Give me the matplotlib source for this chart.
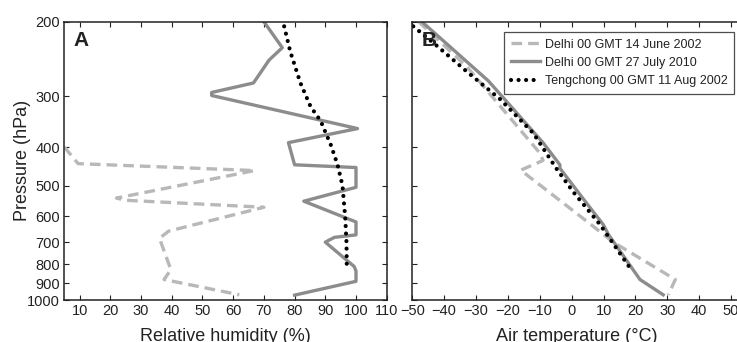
import numpy as np
import matplotlib
matplotlib.use("Agg")
import matplotlib.pyplot as plt

plt.rcParams['font.family'] = ['Liberation Sans', 'DejaVu Sans']
plt.rcParams['text.color'] = '#222222'
plt.rcParams['axes.labelcolor'] = '#222222'
plt.rcParams['xtick.color'] = '#222222'
plt.rcParams['ytick.color'] = '#222222'

# Panel A: relative humidity (%) against pressure (hPa)
rh_2002 = [5, 9.5, 67, 22, 25, 70, 39, 36, 39.7, 37.5, 62]
p_rh_2002 = [400, 440, 458, 538, 545, 568, 655, 684, 828, 880, 968]

rh_2010 = [70, 76, 71.7, 66.6, 53, 53, 100.5, 78, 80, 100, 100, 83, 100, 100, 93, 90, 99.4, 100, 100, 80]
p_rh_2010 = [200, 230, 246, 279, 294, 299, 360, 390, 443, 450, 505, 548, 620, 670, 680, 700, 812, 835, 890, 970]

rh_teng = [76.6, 78.6, 81.9, 85.2, 88.5, 91.8, 94, 95.6, 96.5, 96.9, 97]
p_rh_teng = [205, 235, 279, 318, 345, 395, 443, 500, 605, 700, 812]

# Panel B: air temperature (degC) against pressure (hPa)
t_2002 = [-48, -32.9, -10, -9, -16, 5, 13, 32.5, 30.3]
p_t_2002 = [200, 255, 414, 432, 457, 620, 700, 880, 968]

t_2010 = [-47, -26.1, -8.9, -3.7, -3.7, 4.7, 9.9, 11.5, 21.4, 28.7]
p_t_2010 = [200, 276, 391, 443, 452, 555, 630, 668, 880, 968]

t_teng = [-49.7, -43.4, -32.9, -22.5, -12, -4.7, 0.5, 8.9, 18.3]
p_t_teng = [205, 224, 262, 305, 370, 454, 519, 630, 820]

labels = ['Delhi 00 GMT 14 June 2002', 'Delhi 00 GMT 27 July 2010',
          'Tengchong 00 GMT 11 Aug 2002']
p_ticks = [200, 300, 400, 500, 600, 700, 800, 900, 1000]
rh_ticks = [10, 20, 30, 40, 50, 60, 70, 80, 90, 100, 110]
t_ticks = [-50, -40, -30, -20, -10, 0, 10, 20, 30, 40, 50]

c_dash = '#b8b8b8'
c_solid = '#8c8c8c'
dash_style = dict(color=c_dash, lw=2.4, ls=(0, (3.2, 1.8)))
solid_style = dict(color=c_solid, lw=2.4, ls='-')
dot_style = dict(color='black', lw=3.0, ls=(0, (0.01, 1.8)), dash_capstyle='round')


def fwd(p):
    return -np.power(np.clip(p, 1, None), -0.1)


def inv(v):
    return np.power(-np.clip(v, None, -1e-9), -10.0)


fig = plt.figure(figsize=(7.37, 3.42), dpi=100)
axA = fig.add_axes([64.3 / 737, 1 - 300 / 342, 322.4 / 737, 278.3 / 342])
axB = fig.add_axes([412.3 / 737, 1 - 300 / 342, 350.7 / 737, 278.3 / 342])

axA.plot(rh_2002, p_rh_2002, **dash_style)
axA.plot(rh_2010, p_rh_2010, **solid_style)
axA.plot(rh_teng, p_rh_teng, **dot_style)

axB.plot(t_2002, p_t_2002, label=labels[0], **dash_style)
axB.plot(t_2010, p_t_2010, label=labels[1], **solid_style)
axB.plot(t_teng, p_t_teng, label=labels[2], **dot_style)

for ax in (axA, axB):
    ax.set_yscale('function', functions=(fwd, inv))
    ax.set_ylim(1000, 200)
    ax.set_yticks(p_ticks)
    ax.minorticks_off()
    ax.tick_params(direction='in', top=True, right=True, labelsize=10.5,
                   length=3.5, width=0.8, pad=3)
    for s in ax.spines.values():
        s.set_linewidth(1.1)
        s.set_color('#222222')

axA.set_yticklabels([str(p) for p in p_ticks])
axA.set_xlim(5, 110)
axA.set_xticks(rh_ticks)
axA.set_xlabel('Relative humidity (%)', fontsize=13, labelpad=7)
axA.set_ylabel('Pressure (hPa)', fontsize=13)
axA.yaxis.set_label_coords(-0.102, 0.5)
axA.text(0.03, 0.965, 'A', transform=axA.transAxes, fontsize=15,
         fontweight='bold', va='top', ha='left')

axB.set_yticklabels([])
axB.set_xlim(-50, 60)
axB.set_xticks(t_ticks)
axB.set_xticklabels([str(t).replace('-', '\u2212') for t in t_ticks])
axB.set_xlabel('Air temperature (\u00b0C)', fontsize=13, labelpad=7)
axB.xaxis.label.set_x(0.47)
axB.text(0.028, 0.965, 'B', transform=axB.transAxes, fontsize=15,
         fontweight='bold', va='top', ha='left')

leg = axB.legend(loc='upper right', bbox_to_anchor=(734.3 / 737, 1 - 31.7 / 342),
                 bbox_transform=fig.transFigure, borderaxespad=0, fontsize=9,
                 frameon=True, fancybox=False, handlelength=2.3,
                 handletextpad=0.4, labelspacing=0.5, borderpad=0.55)
leg.get_frame().set_edgecolor('#222222')
leg.get_frame().set_linewidth(0.9)

fig.savefig('out.png', dpi=100)
